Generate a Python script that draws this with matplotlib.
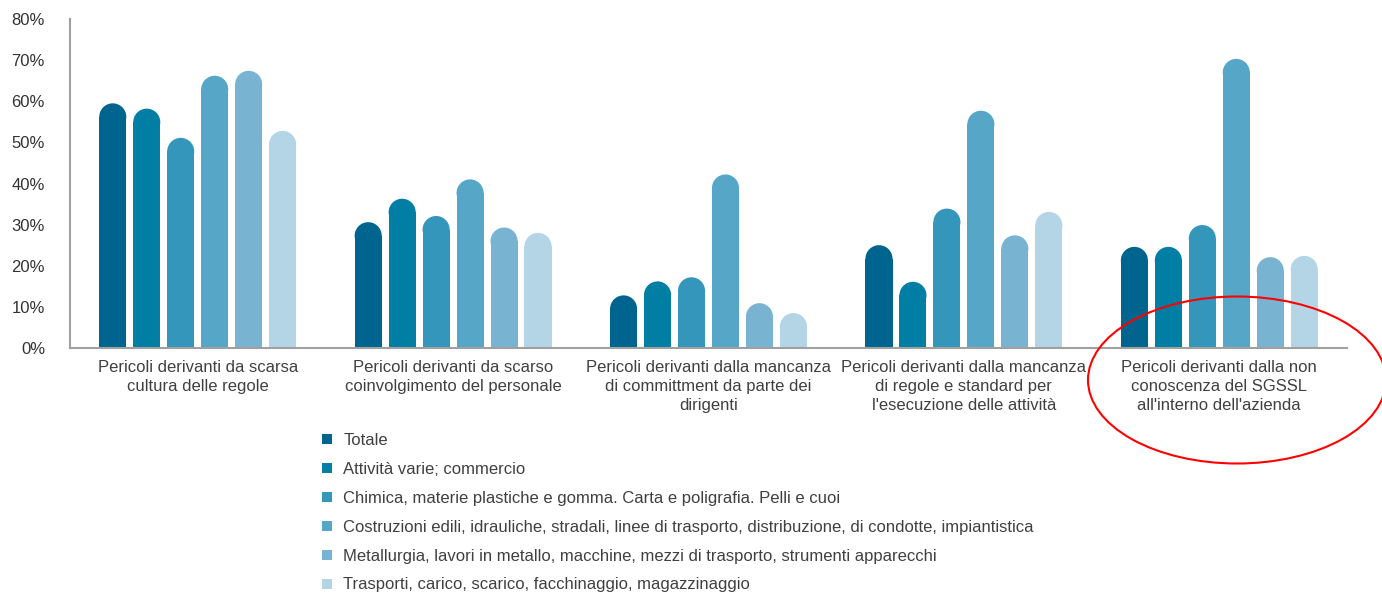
import matplotlib.pyplot as plt
from matplotlib.patches import Ellipse, Patch

# data (percent)
categories = [
    "Pericoli derivanti da scarsa\ncultura delle regole",
    "Pericoli derivanti da scarso\ncoinvolgimento del personale",
    "Pericoli derivanti dalla mancanza\ndi committment da parte dei\ndirigenti",
    "Pericoli derivanti dalla mancanza\ndi regole e standard per\nl'esecuzione delle attività",
    "Pericoli derivanti dalla non\nconoscenza del SGSSL\nall'interno dell'azienda",
]
series_names = [
    "Totale",
    "Attività varie; commercio",
    "Chimica, materie plastiche e gomma. Carta e poligrafia. Pelli e cuoi",
    "Costruzioni edili, idrauliche, stradali, linee di trasporto, distribuzione, di condotte, impiantistica",
    "Metallurgia, lavori in metallo, macchine, mezzi di trasporto, strumenti apparecchi",
    "Trasporti, carico, scarico, facchinaggio, magazzinaggio",
]
totale = [59.5, 30.6, 12.8, 25.0, 24.6]
attivita = [58.2, 36.3, 16.2, 16.1, 24.6]
chimica = [51.1, 32.1, 17.2, 33.9, 29.9]
costruzioni = [66.2, 41.0, 42.2, 57.7, 70.3]
metallurgia = [67.4, 29.3, 10.9, 27.4, 22.1]
trasporti = [52.8, 28.0, 8.5, 33.1, 22.4]
series = [totale, attivita, chimica, costruzioni, metallurgia, trasporti]
yticks = [0, 10, 20, 30, 40, 50, 60, 70, 80]

colors = ["#00658e", "#007ea3", "#3596bc", "#56a6c8", "#78b4d2", "#b3d5e6"]

plt.rcParams['font.family'] = ['Liberation Sans', 'DejaVu Sans']

fig = plt.figure(figsize=(13.82, 5.94), dpi=100)
ax = fig.add_axes([70 / 1382, 1 - 348 / 594, 1277 / 1382, 329 / 594])
ax.set_xlim(-0.5, len(categories) - 0.5)
ax.set_ylim(0, 80)

bw = 0.106
step = 0.133

# radius of the round top in y data units
p0 = ax.transData.transform((0, 0))
p1 = ax.transData.transform((bw, 1))
ry = (p1[0] - p0[0]) / 2 / (p1[1] - p0[1])

for j, vals in enumerate(series):
    for i, v in enumerate(vals):
        x = i + (j - 2.5) * step
        ax.bar(x, v - ry, width=bw, color=colors[j], linewidth=0)
        ax.add_patch(Ellipse((x, v - ry), bw, 2 * ry, color=colors[j], linewidth=0))

ax.set_xticks(range(len(categories)))
ax.set_xticklabels(categories, fontsize=12, color="#404040", linespacing=1.32, va="top")
ax.set_yticks(yticks)
ax.set_yticklabels([f"{t}%" for t in yticks], fontsize=12, color="#333333")
ax.tick_params(length=0)
ax.tick_params(axis='y', pad=18)
ax.tick_params(axis='x', pad=9)
for s in ["top", "right"]:
    ax.spines[s].set_visible(False)
for s in ["left", "bottom"]:
    ax.spines[s].set_color("#a0a0a0")
    ax.spines[s].set_linewidth(1.5)

handles = [Patch(facecolor=c, edgecolor='none') for c in colors]
fig.legend(handles, series_names, loc="upper left", bbox_to_anchor=(314 / 1382, 1 - 425 / 594),
           frameon=False, fontsize=12, handlelength=0.55, handleheight=0.55,
           handletextpad=0.7, labelspacing=0.83, borderpad=0, labelcolor="#404040")

# red ellipse around the last group label
ell = Ellipse((1237 / 1382, 1 - 380 / 594), 298 / 1382, 167 / 594, angle=0,
              transform=fig.transFigure, fill=False, edgecolor="red", linewidth=1.5)
fig.patches.append(ell)

fig.savefig("out.png", dpi=100)
